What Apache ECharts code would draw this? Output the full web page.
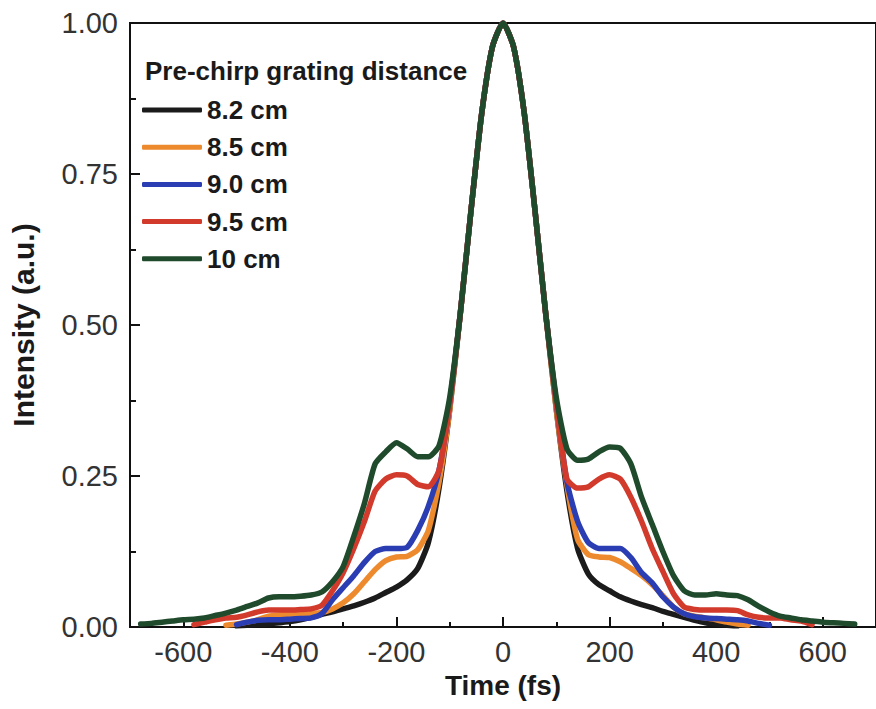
<!DOCTYPE html>
<html><head><meta charset="utf-8">
<script src="https://cdn.jsdelivr.net/npm/echarts@6/dist/echarts.min.js"></script>
<style>html,body{margin:0;padding:0;background:#fff}#chart{width:876px;height:709px}</style>
</head><body><div id="chart"></div>
<script>
const times = [-680,-660,-640,-620,-600,-580,-560,-540,-520,-500,-480,-460,-440,-420,-400,-380,-360,-340,-320,-300,-280,-260,-240,-220,-200,-180,-160,-140,-120,-100,-80,-60,-40,-20,0,20,40,60,80,100,120,140,160,180,200,220,240,260,280,300,320,340,360,380,400,420,440,460,480,500,520,540,560,580,600,620,640,660,680];
const seriesNames = ['8.2 cm','8.5 cm','9.0 cm','9.5 cm','10 cm'];
const v82 = [null,null,null,null,null,null,null,null,null,
  0.002,0.003,0.004,0.005,0.007,0.009,0.012,0.016,0.021,0.025,0.030,0.035,0.041,0.048,0.057,0.066,0.078,0.097,0.14,0.23,0.36,0.52,0.69,0.85,0.96,
  1.0,
  0.96,0.85,0.69,0.52,0.36,0.225,0.13,0.088,0.07,0.06,0.05,0.043,0.037,0.032,0.026,0.021,0.016,0.011,0.007,0.005,0.003,0.002,
  null,null,null,null,null,null,null,null,null,null,null,null];
const v85 = [null,null,null,null,null,null,null,null,
  0.003,0.005,0.008,0.012,0.018,0.020,0.021,0.021,0.022,0.024,0.030,0.040,0.055,0.075,0.095,0.110,0.116,0.117,0.128,0.16,0.24,0.36,0.52,0.69,0.85,0.96,
  1.0,
  0.96,0.85,0.69,0.52,0.36,0.235,0.145,0.12,0.116,0.115,0.108,0.097,0.085,0.07,0.052,0.033,0.022,0.018,0.015,0.012,0.008,0.005,0.003,
  null,null,null,null,null,null,null,null,null,null,null];
const v90 = [null,null,null,null,null,null,null,null,null,
  0.004,0.008,0.011,0.012,0.012,0.013,0.014,0.015,0.022,0.045,0.065,0.085,0.107,0.125,0.13,0.13,0.132,0.16,0.2,0.26,0.37,0.52,0.69,0.85,0.96,
  1.0,
  0.96,0.85,0.69,0.52,0.37,0.24,0.175,0.14,0.13,0.13,0.13,0.115,0.09,0.073,0.05,0.033,0.022,0.017,0.015,0.014,0.013,0.012,0.01,0.006,0.003,
  null,null,null,null,null,null,null,null,null];
const v95 = [null,null,null,null,null,
  0.004,0.008,0.012,0.015,0.016,0.020,0.025,0.028,0.028,0.028,0.029,0.030,0.036,0.06,0.09,0.13,0.175,0.225,0.245,0.252,0.25,0.236,0.232,0.26,0.37,0.52,0.69,0.85,0.96,
  1.0,
  0.96,0.85,0.69,0.52,0.37,0.245,0.23,0.232,0.245,0.252,0.245,0.215,0.175,0.13,0.092,0.055,0.033,0.029,0.028,0.028,0.028,0.027,0.02,0.016,0.015,0.015,0.012,0.01,0.004,
  null,null,null,null,null];
const v100 = [0.005,0.006,0.008,0.01,0.012,0.013,0.015,0.019,0.023,0.028,0.034,0.04,0.048,0.05,0.05,0.051,0.053,0.058,0.075,0.1,0.15,0.205,0.27,0.29,0.305,0.295,0.282,0.282,0.30,0.38,0.52,0.69,0.85,0.96,
  1.0,
  0.96,0.85,0.69,0.52,0.38,0.295,0.276,0.278,0.29,0.298,0.296,0.27,0.215,0.17,0.125,0.085,0.06,0.053,0.053,0.055,0.053,0.052,0.045,0.034,0.025,0.018,0.015,0.012,0.01,0.008,0.007,0.006,0.005,
  null];
const xMajorTicks = [-600,-400,-200,0,200,400,600];
const xMinorTicks = [-500,-300,-100,100,300,500];
const legendTitle = 'Pre-chirp grating distance';
const xTitle = 'Time (fs)';
const yTitle = 'Intensity (a.u.)';
const colors = ['#1b1b1b','#ee8a2e','#2b3db2','#d23a2c','#1f4a2b'];
const allValues = [v82, v85, v90, v95, v100];
const FONT = '"Liberation Sans", Arial, sans-serif';

const chart = echarts.init(document.getElementById('chart'), null, {renderer: 'svg'});
chart.setOption({
  animation: false,
  backgroundColor: '#fff',
  grid: {left: 128, right: -9, top: 23, bottom: 82, show: true, borderColor: '#111', borderWidth: 2, backgroundColor: 'transparent'},
  xAxis: [{
    type: 'value', min: -700, max: 700, position: 'bottom',
    axisLine: {show: true, onZero: false, lineStyle: {color: '#111', width: 2}},
    axisTick: {show: true, inside: true, length: 10, customValues: xMajorTicks, lineStyle: {color: '#111', width: 2}},
    axisLabel: {show: true, customValues: xMajorTicks, fontSize: 29, fontFamily: FONT, color: '#333', margin: 10},
    splitLine: {show: false},
    name: xTitle, nameLocation: 'middle', nameGap: 44,
    nameTextStyle: {fontSize: 28, fontWeight: 'bold', fontFamily: FONT, color: '#1a1a1a'}
  }, {
    type: 'value', min: -700, max: 700, position: 'bottom',
    axisLine: {show: false, onZero: false},
    axisTick: {show: true, inside: true, length: 5, customValues: xMinorTicks, lineStyle: {color: '#111', width: 2}},
    axisLabel: {show: false},
    splitLine: {show: false}
  }],
  yAxis: {
    type: 'value', min: 0, max: 1, interval: 0.25, position: 'left',
    axisLine: {show: true, onZero: false, lineStyle: {color: '#111', width: 2}},
    axisTick: {show: true, inside: true, length: 10, lineStyle: {color: '#111', width: 2}},
    minorTick: {show: true, splitNumber: 2, length: 6, lineStyle: {color: '#111', width: 2}},
    axisLabel: {fontSize: 29, fontFamily: FONT, color: '#333', margin: 12, formatter: v => v.toFixed(2)},
    splitLine: {show: false},
    name: yTitle, nameLocation: 'middle', nameGap: 92,
    nameTextStyle: {fontSize: 30, fontWeight: 'bold', fontFamily: FONT, color: '#1a1a1a'}
  },
  legend: {
    data: seriesNames, orient: 'vertical', left: 142, top: 95, padding: 0,
    itemWidth: 60, itemHeight: 5, icon: 'roundRect', itemGap: 7.2,
    textStyle: {fontSize: 26, fontWeight: 'bold', fontFamily: FONT, color: '#1a1a1a', lineHeight: 30}
  },
  graphic: [{
    type: 'text', left: 145, top: 58,
    style: {text: legendTitle, font: 'bold 26px "Liberation Sans", Arial, sans-serif', fill: '#1a1a1a'}
  }],
  series: allValues.map((vals, k) => ({
    name: seriesNames[k], type: 'line', xAxisIndex: 0,
    symbol: 'none', showSymbol: false, smooth: 0.2,
    color: colors[k],
    lineStyle: {width: 5.5, color: colors[k], cap: 'round', join: 'round'},
    data: times.map((t, i) => [t, vals[i]])
  }))
});
</script></body></html>
